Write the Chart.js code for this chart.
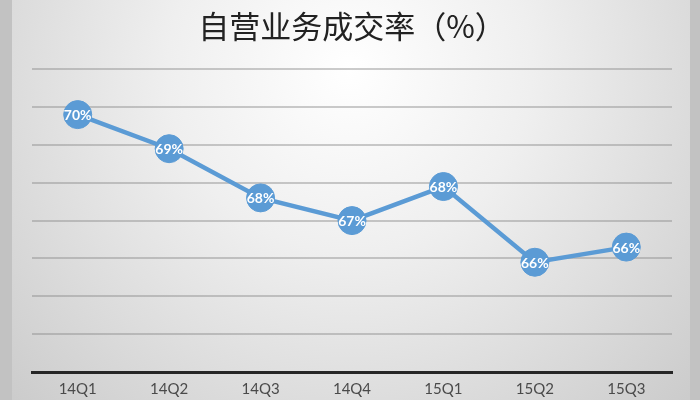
<!DOCTYPE html>
<html>
<head>
<meta charset="utf-8">
<script src="https://cdn.jsdelivr.net/npm/chart.js@4/dist/chart.umd.min.js"></script>
<style>
  html, body { margin: 0; padding: 0; background: #c9c9c9; }
  canvas { display: block; }
</style>
</head>
<body>
<canvas id="myChart" width="700" height="400"></canvas>
<script>
// quarters and the trade rate (%)
var quarters = ['14Q1', '14Q2', '14Q3', '14Q4', '15Q1', '15Q2', '15Q3'];
var rates = [69.8, 68.9, 67.6, 67.0, 67.9, 65.9, 66.3];
var yMin = 63;
var yMax = 71;

var blue = '#5b9bd5';

// grey frame + soft radial gradient behind the chart
var bgPlugin = {
    id: 'bg',
    beforeDraw: function (chart) {
        var c = chart.ctx;
        c.save();
        c.fillStyle = '#c2c2c2';
        c.fillRect(0, 0, chart.width, chart.height);
        var g = c.createRadialGradient(350, 70, 0, 350, 70, 520);
        g.addColorStop(0, '#ffffff');
        g.addColorStop(0.35, '#efefef');
        g.addColorStop(1, '#c6c6c6');
        c.fillStyle = g;
        c.fillRect(12, 0, 678, chart.height);
        c.restore();
    }
};

// white % labels inside the markers
var labelPlugin = {
    id: 'pointLabels',
    afterDatasetsDraw: function (chart) {
        var c = chart.ctx;
        var meta = chart.getDatasetMeta(0);
        c.save();
        c.fillStyle = '#ffffff';
        c.font = 'bold 14px Lato, "Open Sans", sans-serif';
        c.textAlign = 'center';
        c.textBaseline = 'middle';
        meta.data.forEach(function (pt, i) {
            c.fillText(Math.round(rates[i]) + '%', pt.x, pt.y + 1);
        });
        c.restore();
    }
};

var ctx = document.getElementById('myChart').getContext('2d');
var chart = new Chart(ctx, {
    type: 'line',
    data: {
        labels: quarters,
        datasets: [{
            label: '自营业务成交率',
            data: rates,
            borderColor: blue,
            borderWidth: 4.5,
            tension: 0,
            pointRadius: 14,
            pointHoverRadius: 14,
            pointBackgroundColor: blue,
            pointBorderColor: blue,
            pointBorderWidth: 1
        }]
    },
    options: {
        responsive: false,
        animation: false,
        devicePixelRatio: 1,
        layout: {
            padding: { left: 32, right: 28, top: 0, bottom: -6 }
        },
        plugins: {
            legend: { display: false },
            tooltip: { enabled: false },
            title: {
                display: true,
                text: '自营业务成交率（%）',
                color: '#222222',
                font: { family: '"Noto Sans CJK SC", sans-serif', size: 31, weight: 'normal', lineHeight: 1.2 },
                padding: { top: 8, bottom: 24 }
            }
        },
        scales: {
            x: {
                offset: true,
                grid: { display: false, drawTicks: false },
                border: { display: true, color: '#262626', width: 3 },
                ticks: {
                    color: '#4a4a4a',
                    padding: 8,
                    font: { family: 'Lato, "Open Sans", sans-serif', size: 15 }
                }
            },
            y: {
                min: yMin,
                max: yMax,
                grid: { color: 'rgba(140,140,140,0.45)', lineWidth: 2, drawTicks: false },
                border: { display: false },
                ticks: { display: false, stepSize: 1 }
            }
        }
    },
    plugins: [bgPlugin, labelPlugin]
});
</script>
</body>
</html>
